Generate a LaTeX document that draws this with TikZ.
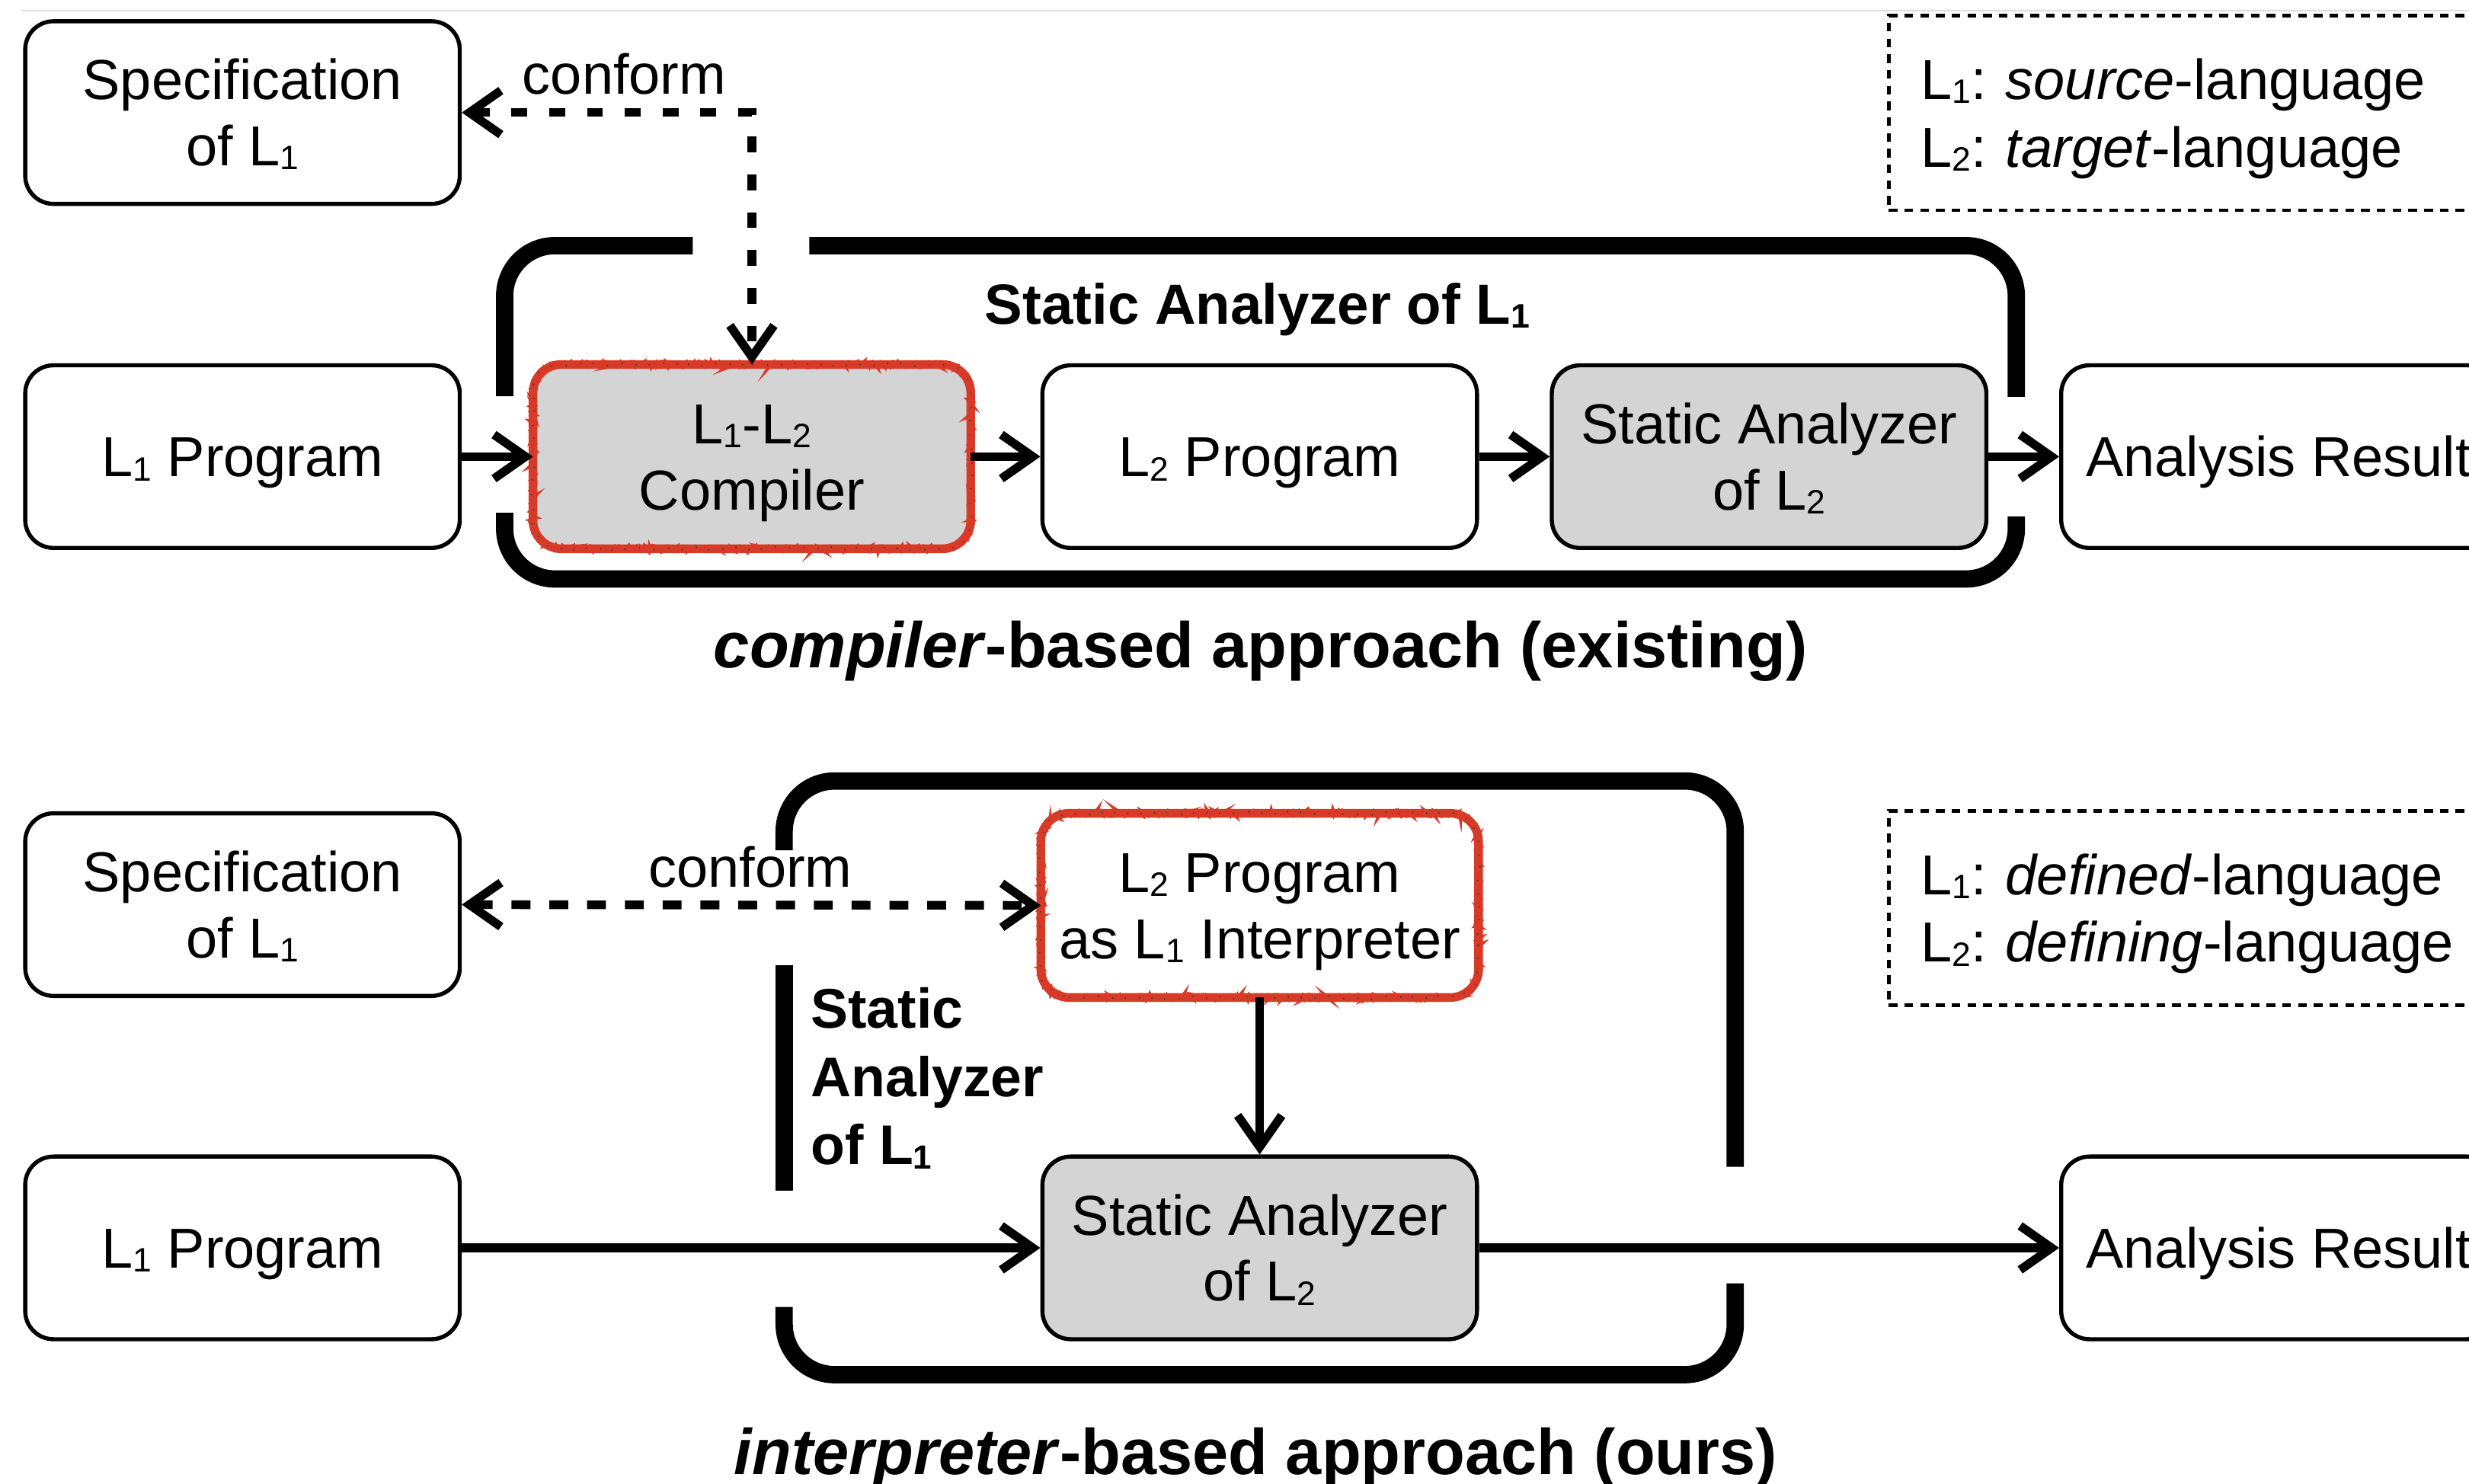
\documentclass[tikz,border=0pt]{standalone}
\usepackage{fontspec}
\setmainfont{Liberation Sans}
\usetikzlibrary{arrows.meta,decorations.pathmorphing}

\definecolor{boxgray}{RGB}{212,212,212}
\definecolor{sketchred}{RGB}{216,58,40}
\definecolor{rulegray}{RGB}{222,222,222}

% language names with a lowered, reduced index
\newcommand{\lsub}[1]{\raisebox{-0.07em}{\scalebox{0.6}{#1}}}
\newcommand{\Lone}{L\lsub{1}}
\newcommand{\Ltwo}{L\lsub{2}}

% hand-drawn looking rounded outline around a rectangular node
\newcommand{\roughoutline}[2]{%
  \draw[#2] ([xshift=18pt]#1.south west) -- ([xshift=-18pt]#1.south east)
    arc[start angle=-90,end angle=0,radius=18pt] -- ([yshift=-18pt]#1.north east)
    arc[start angle=0,end angle=90,radius=18pt] -- ([xshift=18pt]#1.north west)
    arc[start angle=90,end angle=180,radius=18pt] -- ([yshift=18pt]#1.south west)
    arc[start angle=180,end angle=270,radius=18pt] -- cycle;}

\begin{document}
\frenchspacing
\begin{tikzpicture}[x=1pt,y=1pt,
  txt/.style={font=\fontsize{35.8}{42}\selectfont},
  box/.style={txt, draw, line width=2.6pt, rounded corners=18pt,
    minimum width=276pt, minimum height=116pt, inner sep=0pt,
    align=center, text depth=0pt},
  oneline/.style={text height=25.6pt},
  twoline/.style={text height=67.6pt},
  shaded/.style={fill=boxgray},
  sketch/.style={draw=sketchred, line width=5.5pt, outer sep=0pt,
    minimum width=278pt, minimum height=117pt},
  rough/.style={draw=sketchred, line width=2.6pt, decorate,
    decoration={random steps, segment length=1.6pt, amplitude=1.5pt}},
  speck/.style={draw=black!75, line width=1pt, dash pattern=on 0.7pt off 9pt,
    decorate, decoration={random steps, segment length=2pt, amplitude=1.2pt}},
  flow/.style={line width=5.5pt, -{Straight Barb[length=20pt,width=28pt]}},
  twoway/.style={line width=5.5pt,
    {Straight Barb[length=20pt,width=28pt]}-{Straight Barb[length=20pt,width=28pt]}},
  frame/.style={line width=11pt, rounded corners=32pt},
  legend/.style={txt, font=\fontsize{35.8}{43}\selectfont, draw, line width=2.2pt,
    dash pattern=on 5.5pt off 4.5pt, outer sep=0pt, text width=380pt, align=left,
    inner xsep=20.5pt, inner ysep=0pt, text height=25.6pt, text depth=43pt,
    minimum height=123.5pt},
  heading/.style={font=\fontsize{36}{43.5}\selectfont\bfseries, inner sep=0pt},
  caption/.style={font=\fontsize{41}{48}\selectfont\bfseries, inner sep=0pt}
]
\pgfmathsetseed{7}
\useasboundingbox (0,0) rectangle (1568,942);
\fill[white] (0,0) rectangle (1568,942);
\clip (0,0) rectangle (1568,942);

\draw[rulegray, line width=1pt] (13.6,935) -- (1568,935);

% ---------------- compiler-based approach ----------------
\node[box,twoline] (spec1) at (154,870.5) {Specification\\of \Lone};
\node[box,oneline] (p1a) at (154,652) {\Lone{} Program};
\node[box,twoline,shaded,sketch] (comp) at (477.5,652) {\Lone-\Ltwo\\Compiler};
\node[box,oneline] (p2) at (800,652) {\Ltwo{} Program};
\node[box,twoline,shaded] (sa1) at (1123.5,652) {Static Analyzer\\of \Ltwo};
\node[box,oneline] (res1) at (1447,652) {Analysis Result};

\roughoutline{comp}{rough}
\roughoutline{comp}{rough}
\roughoutline{comp}{speck}

\node[legend, anchor=west] (leg1) at (1199.5,870.25)
  {\Lone: \textit{source}-language\\\Ltwo: \textit{target}-language};

\draw[frame] (320.5,690.4) -- (320.5,786) -- (440,786);
\draw[frame] (514,786) -- (1280.5,786) -- (1280.5,690);
\draw[frame] (320.5,616.3) -- (320.5,574.3) -- (1280.5,574.3) -- (1280.5,614);

\node[heading, anchor=base] (title1) at (798.5,736) {Static Analyzer of \Lone};
\node[txt, inner sep=0pt, anchor=base] (conf1) at (396.5,882.3) {conform};

\draw[flow] (p1a.east) -- (comp.west);
\draw[flow] (comp.east) -- (p2.west);
\draw[flow] (p2.east) -- (sa1.west);
\draw[flow] (sa1.east) -- (res1.west);
\draw[twoway, dash pattern=on 10pt off 14pt] (spec1.east) -| (comp.north);

\node[caption, anchor=base] (cap1) at (800.5,518)
  {\textit{compiler}-based approach (existing)};

% ---------------- interpreter-based approach ----------------
\node[box,twoline] (spec2) at (154,367.5) {Specification\\of \Lone};
\node[box,twoline,sketch] (interp) at (800,367) {\Ltwo{} Program\\as \Lone{} Interpreter};
\node[box,oneline] (p1b) at (154,149.5) {\Lone{} Program};
\node[box,twoline,shaded] (sa2) at (800,149.5) {Static Analyzer\\of \Ltwo};
\node[box,oneline] (res2) at (1447,149.5) {Analysis Result};

\roughoutline{interp}{rough}
\roughoutline{interp}{rough}
\roughoutline{interp}{speck}

\node[legend, anchor=west] (leg2) at (1199.5,365.3)
  {\Lone: \textit{defined}-language\\\Ltwo: \textit{defining}-language};

\draw[frame] (498,402) -- (498,446) -- (1102,446) -- (1102,201);
\draw[frame] (498,112) -- (498,69) -- (1102,69) -- (1102,127);
\draw[line width=11pt] (498,329) -- (498,186);

\node[heading, font=\fontsize{35.5}{43.5}\selectfont\bfseries, align=left,
  anchor=north west, text height=112.6pt, text depth=0pt] (title2)
  at (514.8,315.1) {Static\\Analyzer\\of \Lone};
\node[txt, inner sep=0pt, anchor=base] (conf2) at (476.5,378.4) {conform};

\draw[twoway, dash pattern=on 12pt off 12pt] (spec2.east) -- (interp.west);
\draw[flow] (interp.south) -- (sa2.north);
\draw[flow] (p1b.east) -- (sa2.west);
\draw[flow] (sa2.east) -- (res2.west);

\node[caption, anchor=base] (cap2) at (797.5,5.4)
  {\textit{interpreter}-based approach (ours)};
\end{tikzpicture}
\end{document}
